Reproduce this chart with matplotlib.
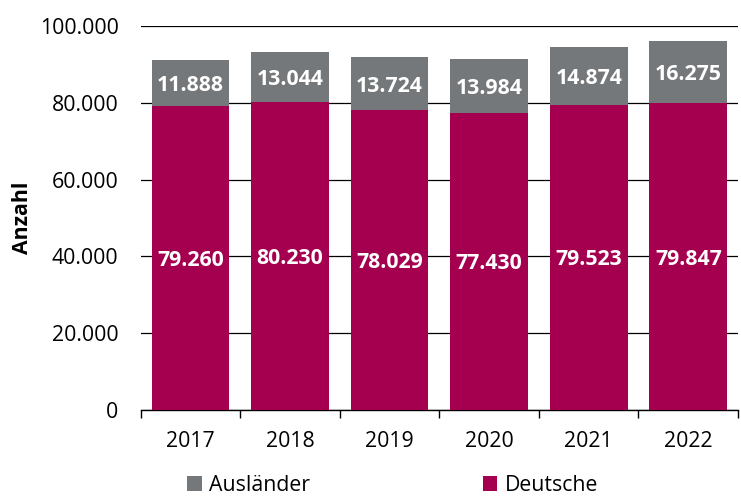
import matplotlib
matplotlib.use("Agg")
import matplotlib.pyplot as plt
import numpy as np
from matplotlib.ticker import FuncFormatter, FixedLocator

years = ["2017", "2018", "2019", "2020", "2021", "2022"]
deutsche = [79260, 80230, 78029, 77430, 79523, 79847]
auslaender = [11888, 13044, 13724, 13984, 14874, 16275]

def de_fmt(v):
    return f"{int(round(v)):,}".replace(",", ".")

plt.rcParams['font.family'] = ['Open Sans', 'DejaVu Sans']

c_de = "#A5004F"
c_au = "#75787B"
fs = 15.3

fig = plt.figure(figsize=(7.41, 4.96), dpi=100)
ax = fig.add_axes([0.19, 0.173, 0.806, 0.775])

x = np.arange(len(years))
w = 0.78
b1 = ax.bar(x, deutsche, w, color=c_de, zorder=3, label="Deutsche")
b2 = ax.bar(x, auslaender, w, bottom=deutsche, color=c_au, zorder=3, label="Ausländer")

for i in range(len(years)):
    ax.text(x[i], deutsche[i] / 2, de_fmt(deutsche[i]), ha="center", va="center_baseline",
            color="white", fontsize=fs, fontweight="bold", zorder=4)
    ax.text(x[i], deutsche[i] + auslaender[i] / 2, de_fmt(auslaender[i]), ha="center",
            va="center_baseline", color="white", fontsize=fs, fontweight="bold", zorder=4)

ax.set_xlim(-0.5, len(years) - 0.5)
ax.set_ylim(0, 100000)
ax.set_yticks(np.arange(0, 100001, 20000))
ax.yaxis.set_major_formatter(FuncFormatter(lambda v, p: de_fmt(v)))
ax.grid(axis="y", color="black", linewidth=0.9, zorder=0)
ax.set_xticks(x)
ax.set_xticklabels(years)
ax.xaxis.set_minor_locator(FixedLocator(np.arange(-0.5, len(years), 1.0)))
ax.tick_params(axis="x", which="major", length=0, pad=15, labelsize=fs)
ax.tick_params(axis="x", which="minor", length=6, width=1, color="black")
ax.tick_params(axis="y", length=0, pad=16, labelsize=fs)
for s in ["left", "right", "top"]:
    ax.spines[s].set_visible(False)
ax.spines["bottom"].set_color("black")
ax.spines["bottom"].set_linewidth(1)
ax.set_ylabel("Anzahl", fontsize=fs, fontweight="bold", labelpad=5)

handles = [b2, b1]
labels = ["Ausländer", "Deutsche"]
fig.legend(handles, labels, loc="center", bbox_to_anchor=(0.53, 0.022), ncol=2,
           frameon=False, fontsize=fs, handlelength=0.7, handleheight=0.7,
           handletextpad=0.35, columnspacing=8.1)

fig.savefig("out.png", dpi=100)
